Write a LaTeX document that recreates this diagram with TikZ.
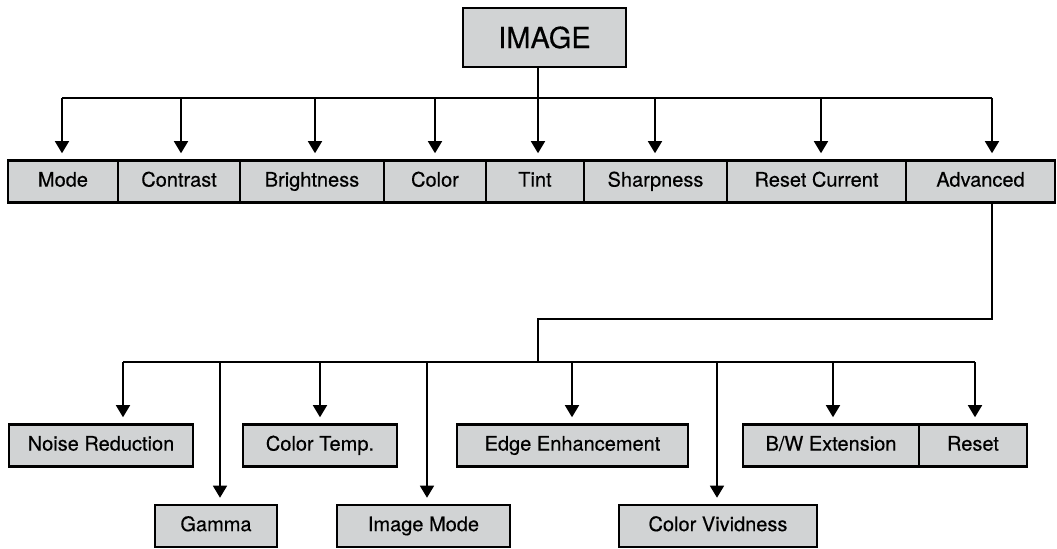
\documentclass[tikz,border=0pt]{standalone}
\usepackage{xcolor}
\usepackage{fontspec}
\setmainfont{TeX Gyre Heros}[FakeBold=0.35]
\usepackage{tikz}
\usetikzlibrary{shapes, arrows.meta, positioning}

\definecolor{boxgray}{RGB}{209,211,212}

\begin{document}
\begin{tikzpicture}
  [
    x=0.5pt, y=-0.5pt,
    Box/.style={rectangle, draw=black, fill=boxgray, line width=1.3pt, inner sep=0pt,
      minimum height=21pt, text height=7.3pt, text depth=2.2pt,
      font=\fontsize{10pt}{12pt}\selectfont},
    Top/.style={rectangle, draw=black, fill=boxgray, line width=1.3pt, inner sep=0pt,
      minimum width=81.5pt, minimum height=29.5pt, font=\fontsize{14.5pt}{16pt}\selectfont},
    Link/.style={draw, line width=0.85pt},
    Arrow/.style={draw, line width=0.85pt, -{Triangle[width=7pt, length=6pt]}, shorten >=3pt}
  ]
  \useasboundingbox (0,0) rectangle (1057,548);

  % Nodes
  \node[Top] (image) at (544.5, 37.5) {IMAGE};

  \node[Box, minimum width=55pt] (mode) at (63, 181.5) {Mode};
  \node[Box, minimum width=61pt] (contrast) at (179, 181.5) {Contrast};
  \node[Box, minimum width=72pt] (brightness) at (312, 181.5) {Brightness};
  \node[Box, minimum width=51pt] (color) at (435, 181.5) {Color};
  \node[Box, minimum width=49pt] (tint) at (535, 181.5) {Tint};
  \node[Box, minimum width=71.5pt] (sharpness) at (655.5, 181.5) {Sharpness};
  \node[Box, minimum width=89.5pt] (resetcur) at (816.5, 181.5) {Reset Current};
  \node[Box, minimum width=74.5pt] (advanced) at (980.5, 181.5) {Advanced};

  \node[Box, minimum width=92pt] (noise) at (101, 445.5) {Noise Reduction};
  \node[Box, minimum width=77pt] (colortemp) at (320, 445.5) {Color Temp.};
  \node[Box, minimum width=115.5pt] (edge) at (572.5, 445.5) {Edge Enhancement};
  \node[Box, minimum width=88pt] (bwext) at (831, 445.5) {B/W Extension};
  \node[Box, minimum width=54pt] (reset) at (973, 445.5) {Reset};

  \node[Box, minimum width=61pt] (gamma) at (216, 526) {Gamma};
  \node[Box, minimum width=86.5pt] (imagemode) at (423.5, 526) {Image Mode};
  \node[Box, minimum width=99pt] (vividness) at (718, 526) {Color Vividness};

  % Junctions
  \coordinate (t1) at (62, 98);
  \coordinate (t2) at (181, 98);
  \coordinate (t3) at (315, 98);
  \coordinate (t4) at (435, 98);
  \coordinate (t5) at (538, 98);
  \coordinate (t6) at (655, 98);
  \coordinate (t7) at (821, 98);
  \coordinate (t8) at (992, 98);
  \coordinate (turn) at (538, 319);
  \coordinate (hub) at (538, 362);
  \coordinate (b1) at (123, 362);
  \coordinate (b2) at (220, 362);
  \coordinate (b3) at (320, 362);
  \coordinate (b4) at (427, 362);
  \coordinate (b5) at (572, 362);
  \coordinate (b6) at (717, 362);
  \coordinate (b7) at (833, 362);
  \coordinate (b8) at (975, 362);

  % Lines
  \path [Link] (t5 |- image.south) -- (t5);
  \path [Link] (t1) -- (t8);
  \path [Arrow] (t1) -- (t1 |- mode.north);
  \path [Arrow] (t2) -- (t2 |- contrast.north);
  \path [Arrow] (t3) -- (t3 |- brightness.north);
  \path [Arrow] (t4) -- (t4 |- color.north);
  \path [Arrow] (t5) -- (t5 |- tint.north);
  \path [Arrow] (t6) -- (t6 |- sharpness.north);
  \path [Arrow] (t7) -- (t7 |- resetcur.north);
  \path [Arrow] (t8) -- (t8 |- advanced.north);

  \path [Link] (t8 |- advanced.south) |- (turn) -- (hub);
  \path [Link] (b1) -- (b8);
  \path [Arrow] (b1) -- (b1 |- noise.north);
  \path [Arrow] (b2) -- (b2 |- gamma.north);
  \path [Arrow] (b3) -- (b3 |- colortemp.north);
  \path [Arrow] (b4) -- (b4 |- imagemode.north);
  \path [Arrow] (b5) -- (b5 |- edge.north);
  \path [Arrow] (b6) -- (b6 |- vividness.north);
  \path [Arrow] (b7) -- (b7 |- bwext.north);
  \path [Arrow] (b8) -- (b8 |- reset.north);

\end{tikzpicture}
\end{document}
